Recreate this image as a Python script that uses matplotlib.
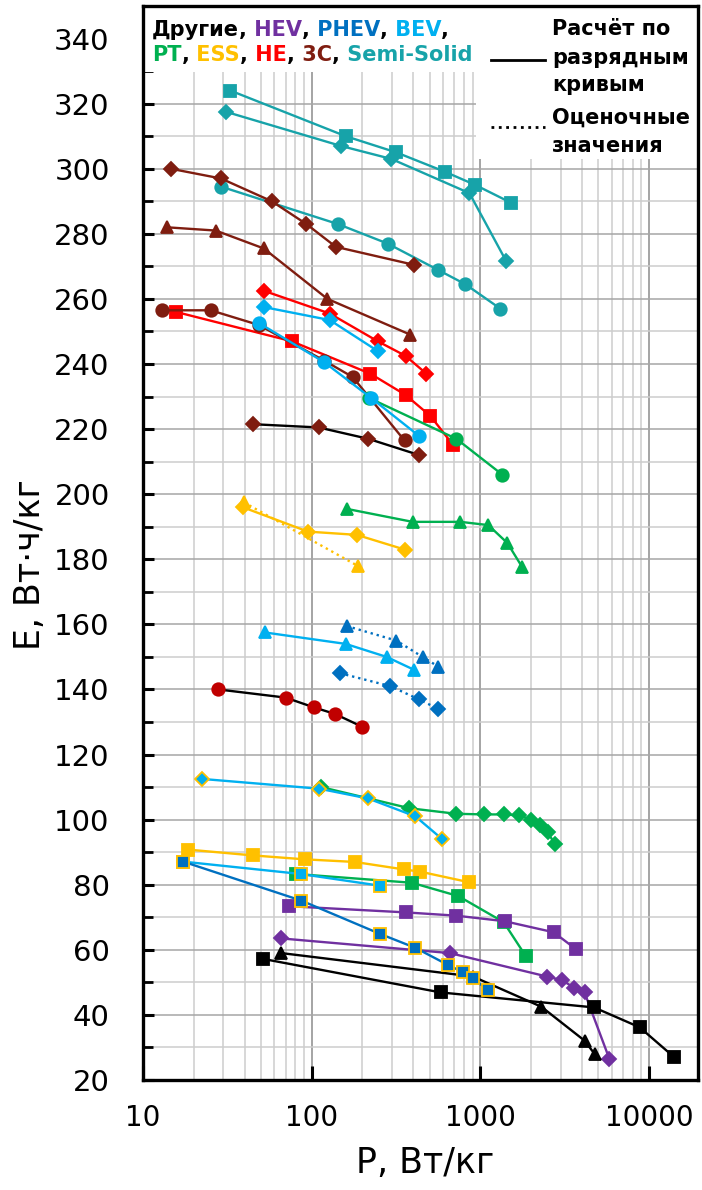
import matplotlib
matplotlib.use('Agg')
import matplotlib.pyplot as plt
from matplotlib.ticker import LogLocator, MultipleLocator, FixedLocator, NullFormatter
from matplotlib.patches import Rectangle
from matplotlib.transforms import IdentityTransform

# colours by cell type
c_other = 'black'
c_hev = '#7030A0'
c_phev = '#0070C0'
c_bev = '#00B0F0'
c_pt = '#00B050'
c_ess = '#FFC000'
c_he = '#FF0000'
c_3c = '#7F1D10'
c_semi = '#17A3A9'

# Semi-Solid
semi_sq_p = [33, 159, 318, 621, 934, 1525]
semi_sq_e = [324, 310, 305, 299, 295, 289.5]
semi_d_p = [31, 149, 297, 861, 1426]
semi_d_e = [317.5, 307, 303, 292.5, 271.5]
semi_c_p = [29, 143, 282, 557, 815, 1313]
semi_c_e = [294.5, 283, 277, 269, 264.5, 257]

# 3C
c3_d_p = [14.6, 29, 58, 93, 139, 402]
c3_d_e = [300, 297, 290, 283, 276, 270.5]
c3_t_p = [13.9, 27, 52, 124, 385]
c3_t_e = [282, 281, 275.5, 260, 249]
c3_c_p = [12.9, 25.2, 48.5, 119, 175, 355]
c3_c_e = [256.5, 256.5, 252, 241, 236, 216.5]
c3_d2_p = [45, 110, 217, 435]
c3_d2_e = [221.5, 220.5, 217, 212]

# HE
he_d_p = [52, 128, 246, 360, 479]
he_d_e = [262.5, 255.5, 247, 242.5, 237]
he_sq_p = [15.7, 76, 223, 360, 506, 692]
he_sq_e = [256, 247, 237, 230.5, 224, 215]

# BEV
bev_d_p = [52, 128, 246]
bev_d_e = [257.5, 253.5, 244]
bev_c_p = [49, 119, 226, 430]
bev_c_e = [252.5, 240.5, 229.5, 218]
bev_t_p = [53, 159, 278, 406]
bev_t_e = [157.5, 154, 150, 146]
bev_dg_p = [22.5, 111, 216, 412, 594]
bev_dg_e = [112.5, 109.5, 106.5, 101, 94]
bev_sq_p = [17.3, 86, 254]
bev_sq_e = [87.1, 83.3, 79.7]

# PT
pt_c_p = [220, 721, 1349]
pt_c_e = [229.5, 217, 206]
pt_t_p = [161, 396, 762, 1114, 1445, 1774]
pt_t_e = [195.5, 191.5, 191.5, 190.5, 185, 177.5]
pt_d_p = [114, 380, 717, 1050, 1374, 1690, 2006, 2266, 2500, 2757]
pt_d_e = [110, 103.5, 101.8, 101.6, 101.6, 101.3, 100, 98.3, 96.2, 92.6]
pt_sq_p = [81, 393, 741, 1374, 1862]
pt_sq_e = [83.3, 80.6, 76.5, 68.5, 58]

# ESS
ess_d_p = [39, 95, 185, 355]
ess_d_e = [196, 188.5, 187.5, 183]
ess_t_p = [39.6, 187]
ess_t_e = [197.5, 178]
ess_sq_p = [18.4, 45, 91, 180, 352, 441, 851]
ess_sq_e = [90.8, 89, 87.8, 87, 84.7, 84, 80.8]

# PHEV
phev_t_p = [161, 318, 454, 564]
phev_t_e = [159.5, 155, 150, 147]
phev_d_p = [147, 293, 430, 564]
phev_d_e = [145, 141, 137, 134]
phev_sq_p = [17.3, 87, 254, 412, 640, 790, 902, 1114]
phev_sq_e = [87.1, 75.1, 64.9, 60.6, 55.4, 53.1, 51.2, 47.6]

# HEV
hev_sq_p = [73, 361, 717, 1390, 2717, 3664]
hev_sq_e = [73.4, 71.5, 70.5, 68.8, 65.4, 60.3]
hev_d_p = [66, 659, 2477, 3041, 3610, 4143, 5806]
hev_d_e = [63.5, 59, 51.8, 50.7, 48.3, 46.9, 26.6]

# Другие
oth_c_p = [28, 70, 103, 137, 200]
oth_c_e = [140, 137.5, 134.5, 132.5, 128.5]
oth_t_p = [66, 902, 2300, 4143, 4771]
oth_t_e = [59, 51.8, 42.5, 32.1, 27.9]
oth_sq_p = [51.6, 583, 4721, 8790, 14020]
oth_sq_e = [57.2, 46.9, 42.3, 36.2, 27.1]

# (p, e, line colour, marker, face, edge, linestyle)
series = [
    (semi_sq_p, semi_sq_e, c_semi, 's', c_semi, c_semi, '-'),
    (semi_d_p, semi_d_e, c_semi, 'D', c_semi, c_semi, '-'),
    (semi_c_p, semi_c_e, c_semi, 'o', c_semi, c_semi, '-'),
    (c3_d_p, c3_d_e, c_3c, 'D', c_3c, c_3c, '-'),
    (c3_t_p, c3_t_e, c_3c, '^', c_3c, c_3c, '-'),
    (he_sq_p, he_sq_e, c_he, 's', c_he, c_he, '-'),
    (c3_c_p, c3_c_e, c_3c, 'o', c_3c, c_3c, '-'),
    (he_d_p, he_d_e, c_he, 'D', c_he, c_he, '-'),
    (bev_d_p, bev_d_e, c_bev, 'D', c_bev, c_bev, '-'),
    (pt_c_p, pt_c_e, c_pt, 'o', c_pt, c_pt, '-'),
    (bev_c_p, bev_c_e, c_bev, 'o', c_bev, c_bev, '-'),
    (c3_d2_p, c3_d2_e, 'black', 'D', c_3c, c_3c, '-'),
    (pt_t_p, pt_t_e, c_pt, '^', c_pt, c_pt, '-'),
    (ess_t_p, ess_t_e, c_ess, '^', c_ess, c_ess, ':'),
    (ess_d_p, ess_d_e, c_ess, 'D', c_ess, c_ess, '-'),
    (phev_t_p, phev_t_e, c_phev, '^', c_phev, c_phev, ':'),
    (phev_d_p, phev_d_e, c_phev, 'D', c_phev, c_phev, ':'),
    (bev_t_p, bev_t_e, c_bev, '^', c_bev, c_bev, '-'),
    (oth_c_p, oth_c_e, 'black', 'o', '#C00000', '#C00000', '-'),
    (pt_d_p, pt_d_e, c_pt, 'D', c_pt, c_pt, '-'),
    (bev_dg_p, bev_dg_e, c_bev, 'D', c_bev, c_ess, '-'),
    (ess_sq_p, ess_sq_e, c_ess, 's', c_ess, c_ess, '-'),
    (pt_sq_p, pt_sq_e, c_pt, 's', c_pt, c_pt, '-'),
    (bev_sq_p, bev_sq_e, c_bev, 's', c_bev, c_ess, '-'),
    (hev_sq_p, hev_sq_e, c_hev, 's', c_hev, c_hev, '-'),
    (hev_d_p, hev_d_e, c_hev, 'D', c_hev, c_hev, '-'),
    (oth_t_p, oth_t_e, 'black', '^', 'black', 'black', '-'),
    (oth_sq_p, oth_sq_e, 'black', 's', 'black', 'black', '-'),
    (phev_sq_p, phev_sq_e, c_phev, 's', c_phev, c_ess, '-'),
]

msize = {'s': 8, 'D': 7, 'o': 9, '^': 9}

W, H = 702, 1190
fig = plt.figure(figsize=(W / 100, H / 100), dpi=100)
ax = fig.add_axes([143 / W, 1 - 1080 / H, (698 - 143) / W, (1080 - 6) / H])

for p, e, lc, m, fc, ec, ls in series:
    ax.plot(p, e, color=lc, linestyle=ls, linewidth=1.7, marker=m,
            markersize=msize[m], markerfacecolor=fc, markeredgecolor=ec,
            markeredgewidth=1.3, zorder=3)

ax.set_xscale('log')
ax.set_xlim(10, 19500)
ax.set_ylim(20, 350)

ax.xaxis.set_major_locator(FixedLocator([10, 100, 1000, 10000]))
ax.set_xticklabels(['10', '100', '1000', '10000'])
ax.xaxis.set_minor_locator(LogLocator(base=10, subs=range(2, 10)))
ax.xaxis.set_minor_formatter(NullFormatter())
ax.yaxis.set_major_locator(FixedLocator(range(20, 341, 20)))
ax.yaxis.set_minor_locator(MultipleLocator(10))

ax.grid(which='major', axis='x', color='#8C8C8C', linewidth=1.1)
ax.grid(which='minor', axis='x', color='#CDCDCD', linewidth=1.1)
ax.grid(which='major', axis='y', color='#A6A6A6', linewidth=1.1)
ax.grid(which='minor', axis='y', color='#CDCDCD', linewidth=1.1)
ax.set_axisbelow(True)

ax.tick_params(axis='both', which='major', direction='in', width=2.2, length=8)
ax.tick_params(axis='y', which='major', labelsize=21, pad=24)
ax.tick_params(axis='x', which='major', labelsize=20, length=10, pad=17)
ax.tick_params(axis='y', which='minor', direction='in', width=2, length=7)
ax.tick_params(axis='x', which='minor', length=0)
for s in ax.spines.values():
    s.set_linewidth(2.4)

# white areas under the legend texts
def px_box(x0, y0, x1, y1):
    fx0 = (x0 - 143) / (698 - 143)
    fx1 = (x1 - 143) / (698 - 143)
    fy0 = (1080 - y1) / (1080 - 6)
    fy1 = (1080 - y0) / (1080 - 6)
    ax.add_patch(Rectangle((fx0, fy0), fx1 - fx0, fy1 - fy0, transform=ax.transAxes,
                           facecolor='white', edgecolor='none', zorder=1))

px_box(143, 6, 476, 72)
px_box(476, 6, 698, 159)

fig.text(30, H - 565, 'E, Вт·ч/кг', transform=IdentityTransform(), fontsize=25,
         rotation=90, ha='center', va='center')
fig.text(425, H - 1163, 'P, Вт/кг', transform=IdentityTransform(), fontsize=25,
         ha='center', va='center')

renderer = fig.canvas.get_renderer()
lsize = 15


def advance(s):
    t1 = fig.text(0, 0, s + '|', fontsize=lsize, fontweight='bold')
    t2 = fig.text(0, 0, '|', fontsize=lsize, fontweight='bold')
    w = t1.get_window_extent(renderer).width - t2.get_window_extent(renderer).width
    t1.remove()
    t2.remove()
    return w


def colored_line(x, y, pieces):
    for s, c in pieces:
        fig.text(x, H - y, s, color=c, transform=IdentityTransform(), fontsize=lsize,
                 fontweight='bold', va='baseline')
        x += advance(s)


colored_line(152, 36, [('Другие', c_other), (',', 'black'), (' HEV', c_hev), (',', 'black'),
                       (' PHEV', c_phev), (',', 'black'), (' BEV', c_bev), (',', 'black')])
colored_line(152, 61, [('PT', c_pt), (',', 'black'), (' ESS', c_ess), (',', 'black'),
                       (' HE', c_he), (',', 'black'), (' 3C', c_3c), (',', 'black'),
                       (' Semi-Solid', c_semi)])

ax_px = lambda x, y: ((x - 143) / (698 - 143), (1080 - y) / (1080 - 6))
for y0, ls in [(60, '-'), (127, ':')]:
    a = ax_px(491, y0)
    b = ax_px(545, y0)
    ax.plot([a[0], b[0]], [a[1], b[1]], transform=ax.transAxes, color='black',
            linestyle=ls, linewidth=2, zorder=4, clip_on=False)

for txt, y0 in [('Расчёт по', 35), ('разрядным', 64), ('кривым', 91),
                ('Оценочные', 124), ('значения', 152)]:
    fig.text(552, H - y0, txt, transform=IdentityTransform(), fontsize=lsize,
             fontweight='bold', va='baseline')

fig.savefig('out.png', dpi=100)
